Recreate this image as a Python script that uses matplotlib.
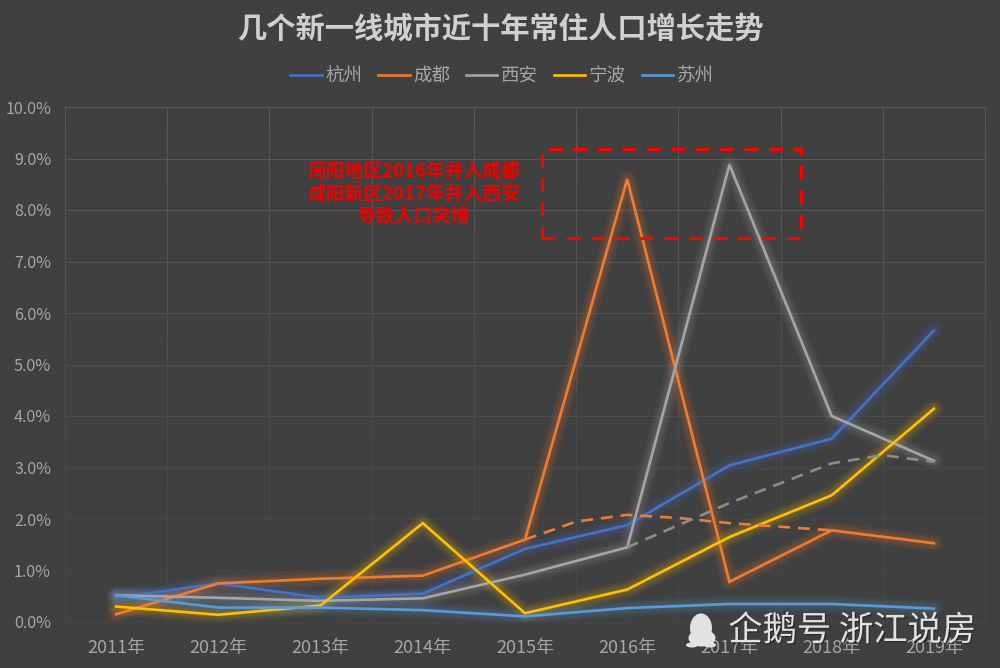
#!/usr/bin/env python3
import matplotlib
matplotlib.use('Agg')
import matplotlib.pyplot as plt
import matplotlib.patheffects as pe
from matplotlib.patches import Rectangle, Ellipse
import numpy as np

plt.rcParams['font.family'] = ['Noto Sans CJK SC', 'DejaVu Sans']

years = ['2011年', '2012年', '2013年', '2014年', '2015年', '2016年', '2017年', '2018年', '2019年']
hangzhou = [0.47, 0.75, 0.47, 0.55, 1.42, 1.88, 3.04, 3.56, 5.66]
chengdu = [0.15, 0.75, 0.84, 0.90, 1.60, 8.60, 0.78, 1.78, 1.53]
xian = [0.52, 0.47, 0.41, 0.46, 0.92, 1.45, 8.88, 4.00, 3.13]
ningbo = [0.30, 0.14, 0.32, 1.92, 0.17, 0.63, 1.65, 2.46, 4.14]
suzhou = [0.52, 0.28, 0.28, 0.23, 0.11, 0.27, 0.35, 0.35, 0.26]

# adjusted trend without the annexations, read at half-year steps
chengdu_adj_x = [4, 4.5, 5, 5.5, 6, 6.5, 7]
chengdu_adj = [1.60, 1.95, 2.08, 2.02, 1.92, 1.85, 1.78]
xian_adj_x = [5, 6, 7, 7.5, 8]
xian_adj = [1.45, 2.31, 3.08, 3.24, 3.11]

series = [
    ('杭州', hangzhou, '#4472c4'),
    ('成都', chengdu, '#ed7d31'),
    ('西安', xian, '#a5a5a5'),
    ('宁波', ningbo, '#ffc000'),
    ('苏州', suzhou, '#5b9bd5'),
]

BG = '#404040'
W, H = 1000, 668


def px(x, y):
    return x / W, 1 - y / H


def grid_color(v):
    # gridlines fade out towards the bottom of the plot
    level = 0x46 + max(0, v - 2) / 8 * (0x5a - 0x46)
    return (level / 255, level / 255, level / 255)


fig = plt.figure(figsize=(10, 6.68), dpi=100, facecolor=BG)
ax = fig.add_axes([0.065, 46 / H, 0.92, 515 / H], facecolor=BG)

x = np.arange(len(years))
levels = np.arange(0, 11)
for v in levels:
    ax.axhline(v, color=grid_color(v), lw=0.8, zorder=1, clip_on=False)
for gx in np.arange(-0.5, 9):
    for v in np.arange(0, 10, 0.5):
        ax.plot([gx, gx], [v, v + 0.5], color=grid_color(v + 0.25), lw=0.8, zorder=1, clip_on=False,
                solid_capstyle='butt')

for name, values, color in series:
    # soft glow under each line
    for width, alpha in [(14, 0.03), (12, 0.04), (10, 0.05), (8, 0.06), (6, 0.06), (4, 0.05)]:
        ax.plot(x, values, color=color, lw=width, alpha=alpha, solid_joinstyle='round',
                solid_capstyle='round', zorder=3)
    ax.plot(x, values, color=color, lw=1.9, label=name, solid_joinstyle='miter', zorder=4)

ax.plot(chengdu_adj_x, chengdu_adj, color='#ed7d31', lw=1.9, dashes=(4.5, 3), zorder=5)
ax.plot(xian_adj_x, xian_adj, color='#8c8c8c', lw=1.9, dashes=(4.5, 3), zorder=5)

ax.set_xlim(-0.5, 8.5)
ax.set_ylim(0, 10)
ax.set_xticks(x)
ax.set_xticklabels(years)
ax.set_yticks(levels)
ax.set_yticklabels([f'{v:.1f}%' for v in levels])
ax.tick_params(axis='both', which='both', length=0, labelcolor='#a6a6a6')
ax.tick_params(axis='x', pad=12, labelsize=13)
ax.tick_params(axis='y', pad=10, labelsize=11.6)
for s in ax.spines.values():
    s.set_visible(False)

fig.text(*px(500, 29), '几个新一线城市近十年常住人口增长走势', ha='center', va='center',
         fontsize=21.1, fontweight='bold', color='#d0d0d0')

fig.legend(*ax.get_legend_handles_labels(), loc='center', bbox_to_anchor=px(502, 76), ncol=5,
           frameon=False, fontsize=13.3, labelcolor='#a6a6a6', handlelength=1.7,
           handletextpad=0.2, columnspacing=0.85)

# annotation
fig.text(*px(414, 194), '简阳地区2016年并入成都\n咸阳新区2017年并入西安\n导致人口突增', ha='center', va='center',
         fontsize=13.5, fontweight='bold', color='#f00000', linespacing=1.25)
x0, y0 = px(542, 238)
x1, y1 = px(801, 149)
fig.add_artist(Rectangle((x0, y0), x1 - x0, y1 - y0, transform=fig.transFigure, fill=False,
                         edgecolor='#ff0000', lw=2.2, linestyle=(0, (4.5, 3.5))))

# watermark
wm = '#e2e2e2'
for cx, cy, w, h in [(701, 628, 22, 29), (702, 638, 27, 17), (692, 645, 12, 5), (710, 645, 12, 5)]:
    fig.add_artist(Ellipse(px(cx, cy), w / W, h / H, transform=fig.transFigure, color=wm, lw=0))
fig.text(*px(852, 631), '企鹅号 浙江说房', ha='center', va='center', fontsize=24.7, color=wm,
         path_effects=[pe.withSimplePatchShadow(offset=(1, -1), shadow_rgbFace='#202020', alpha=0.6)])

fig.savefig('out.png', dpi=100, facecolor=BG)
